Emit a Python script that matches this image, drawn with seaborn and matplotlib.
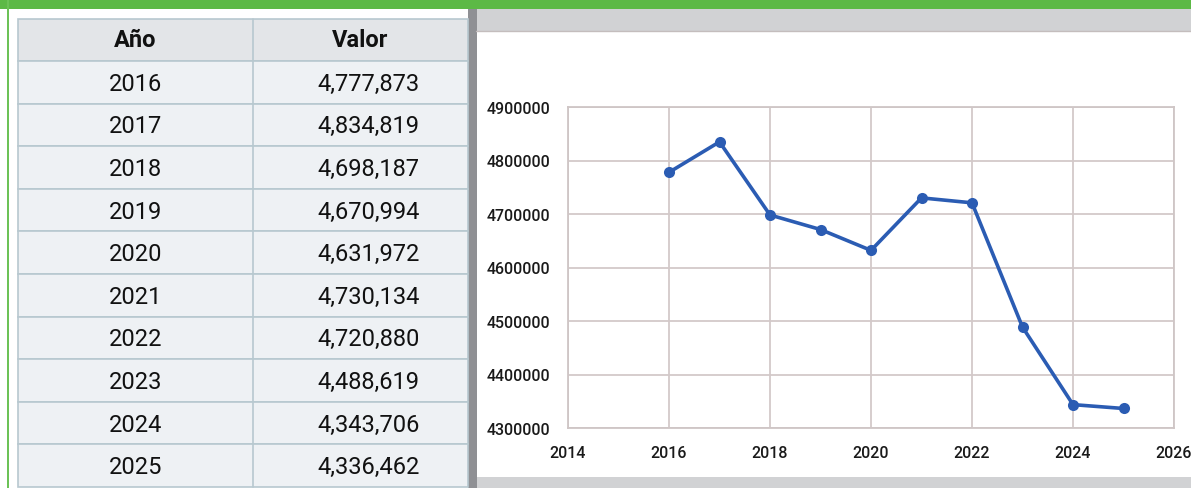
import matplotlib
matplotlib.use("Agg")
import matplotlib.pyplot as plt
from matplotlib.patches import Rectangle
import seaborn as sns
import pandas as pd

# ---- data ----
years = [2016, 2017, 2018, 2019, 2020, 2021, 2022, 2023, 2024, 2025]
values = [4777873, 4834819, 4698187, 4670994, 4631972, 4730134, 4720880, 4488619, 4343706, 4336462]
col_headers = ["Año", "Valor"]
y_ticks = [4300000, 4400000, 4500000, 4600000, 4700000, 4800000, 4900000]
x_ticks = [2014, 2016, 2018, 2020, 2022, 2024, 2026]

df = pd.DataFrame({"Año": years, "Valor": values})

sns.set_theme(style="white")
plt.rcParams['font.family'] = ['Roboto', 'DejaVu Sans']

W, H = 1191, 489
fig = plt.figure(figsize=(W / 100, H / 100), dpi=100)
fig.patch.set_facecolor("white")

# background / layout axes in pixel coordinates
bg = fig.add_axes([0, 0, 1, 1])
bg.set_xlim(0, W)
bg.set_ylim(H, 0)
bg.axis("off")

# green top bar and thin left line
bg.add_patch(Rectangle((0, 0), W, 9.5, color="#5cb946", lw=0))
bg.add_patch(Rectangle((7, 0), 1.5, H, color="#6cc257", lw=0))
# chart panel grey header / footer
bg.add_patch(Rectangle((476, 9.5), W - 476, 22.5, color="#d1d2d4", lw=0))
bg.plot([476, W], [32, 32], color="#c4bdbd", lw=1)
bg.add_patch(Rectangle((476, 478), W - 476, H - 478, color="#d1d2d4", lw=0))
# vertical separator
bg.add_patch(Rectangle((468, 10), 8.5, H - 10, color="#8f9094", lw=0))

# table
tx0, tx1, tx2 = 18, 253, 468
ty0 = 19.5
hdr_h = 42.5
row_h = 42.6
grid_c = "#b7c8cf"
bg.add_patch(Rectangle((tx0, ty0), tx2 - tx0, hdr_h, facecolor="#e3e5e8", edgecolor=grid_c, lw=1.2))
bg.text((tx0 + tx1) / 2, ty0 + hdr_h / 2, col_headers[0], ha="center", va="center",
        fontsize=17, fontweight="bold", color="#111111")
bg.text((tx1 + tx2) / 2, ty0 + hdr_h / 2, col_headers[1], ha="center", va="center",
        fontsize=17, fontweight="bold", color="#111111")
for i, (yr, v) in enumerate(zip(years, values)):
    top = ty0 + hdr_h + i * row_h
    bg.add_patch(Rectangle((tx0, top), tx2 - tx0, row_h, facecolor="#eef1f4", edgecolor=grid_c, lw=1.2))
    bg.text((tx0 + tx1) / 2, top + row_h / 2 + 1, str(yr), ha="center", va="center",
            fontsize=17, color="#111111")
    bg.text((tx1 + tx2) / 2 + 8, top + row_h / 2 + 1, f"{v:,}", ha="center", va="center",
            fontsize=17, color="#111111")
bg.plot([tx1, tx1], [ty0, ty0 + hdr_h + len(years) * row_h], color=grid_c, lw=1.2)

# chart
ax = fig.add_axes([568 / W, (H - 429) / H, (1174 - 568) / W, (429 - 108) / H])
ax.set_facecolor("white")
sns.lineplot(data=df, x="Año", y="Valor", ax=ax, color="#2b5cb3", lw=2.6,
             marker="o", markersize=8, markeredgewidth=0)
ax.set_xlim(2014, 2026)
ax.set_ylim(4300000, 4900000)
ax.set_xticks(x_ticks)
ax.set_yticks(y_ticks)
ax.set_xticklabels([str(t) for t in x_ticks])
ax.set_yticklabels([str(t) for t in y_ticks])
ax.grid(True, color="#d3c9c9", lw=1.3)
ax.set_axisbelow(True)
for s in ax.spines.values():
    s.set_color("#cfc6c6")
    s.set_linewidth(1.3)
ax.tick_params(axis="both", length=0, labelsize=11.5, colors="#1a1a1a")
ax.tick_params(axis="y", pad=13)
ax.tick_params(axis="x", pad=12)
for lab in ax.get_xticklabels() + ax.get_yticklabels():
    lab.set_fontweight("medium")
ax.set_xlabel("")
ax.set_ylabel("")

fig.savefig("out.png", dpi=100)
